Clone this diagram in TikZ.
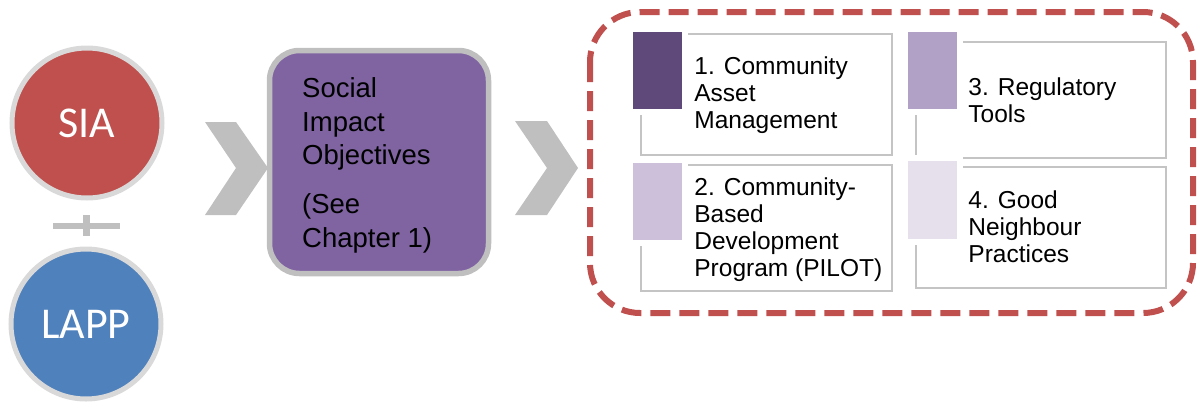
\documentclass[tikz,border=0pt]{standalone}
\usepackage{fontspec}
\setmainfont{Liberation Sans}
\newfontfamily\calibrifont{Carlito}
\usetikzlibrary{calc, positioning}
\definecolor{siaRed}{RGB}{192,80,77}
\definecolor{lappBlue}{RGB}{79,129,189}
\definecolor{objPurple}{RGB}{128,100,162}
\definecolor{ringGray}{RGB}{217,217,217}
\definecolor{chevGray}{RGB}{191,191,191}
\definecolor{lineGray}{RGB}{196,196,196}
\definecolor{tagDark}{RGB}{95,73,122}
\definecolor{tagMid}{RGB}{178,161,199}
\definecolor{tagLight}{RGB}{204,192,218}
\definecolor{tagPale}{RGB}{229,224,236}
\tikzset{
  ring/.style={circle, draw=ringGray, line width=5pt, minimum size=150pt,
               inner sep=0pt, text=white, font=\calibrifont\fontsize{44}{50}\selectfont},
  chevron/.style={fill=chevGray},
  itembox/.style={draw=lineGray, line width=1.6pt, minimum width=251pt, inner sep=0pt},
  itemtext/.style={anchor=west, inner sep=0pt, align=left,
                   font=\fontsize{24.5}{27}\selectfont},
}

\begin{document}
\begin{tikzpicture}[x=1pt, y=-1pt]
  \useasboundingbox (0,0) rectangle (1197,402);

  % ----- inputs -----
  \node[ring, fill=siaRed]   (sia)  at (87,123) {SIA};
  \node[ring, fill=lappBlue] (lapp) at (86,324) {LAPP};
  \fill[chevGray] (53,223) rectangle (120,229);      % plus sign
  \fill[chevGray] (83,215) rectangle (90,236);

  % ----- chevrons -----
  \fill[chevron] (205,122) -- (236,122) -- (268,168) -- (236,215) -- (205,215) -- (236,168) -- cycle;
  \fill[chevron] (515,121) -- (547,121) -- (578,168) -- (547,215) -- (515,215) -- (547,168) -- cycle;

  % ----- objectives box -----
  \node[draw=chevGray, fill=objPurple, line width=5.5pt, rounded corners=30pt,
        minimum width=219pt, minimum height=223pt, inner sep=0pt] (obj) at (379,162) {};
  \node[anchor=west, inner sep=0pt, align=left, font=\fontsize{27.5}{33.5}\selectfont]
        (objtext) at (302,165.5) {Social\\Impact\\Objectives\\[15.5pt](See\\Chapter 1)};

  % ----- tools frame -----
  \draw[siaRed, line width=6pt, dash pattern=on 20pt off 9pt, rounded corners=50pt]
        (590,12) rectangle (1193,313);

  % ----- tool boxes -----
  \node[itembox, minimum height=121pt] (b1) at (766.5,94.5) {};
  \node[itembox, minimum height=126pt] (b2) at (766.5,228)  {};
  \node[itembox, minimum width=250pt, minimum height=116pt] (b3) at (1041,100) {};
  \node[itembox, minimum width=250pt, minimum height=121pt] (b4) at (1041,227.5) {};

  % ----- colour tags (white halo first) -----
  \fill[white] (627,26) rectangle (688,115);   \fill[tagDark]  (633,32) rectangle (682,109);
  \fill[white] (902,26) rectangle (963,115);   \fill[tagMid]   (908,32) rectangle (957,109);
  \fill[white] (627,157) rectangle (688,246);  \fill[tagLight] (633,163) rectangle (682,240);
  \fill[white] (902,155) rectangle (963,245);  \fill[tagPale]  (908,161) rectangle (957,239);

  % ----- labels -----
  \node[itemtext] (t1) at ($(b1.west)+(54,1)$) {1. Community\\Asset\\Management};
  \node[itemtext] (t2) at ($(b2.west)+(54,2)$) {2. Community-\\Based\\Development\\Program (PILOT)};
  \node[itemtext] (t3) at ($(b3.west)+(53,0.5)$) {3. Regulatory\\Tools};
  \node[itemtext] (t4) at ($(b4.west)+(53,-1)$) {4. Good\\Neighbour\\Practices};
\end{tikzpicture}
\end{document}
